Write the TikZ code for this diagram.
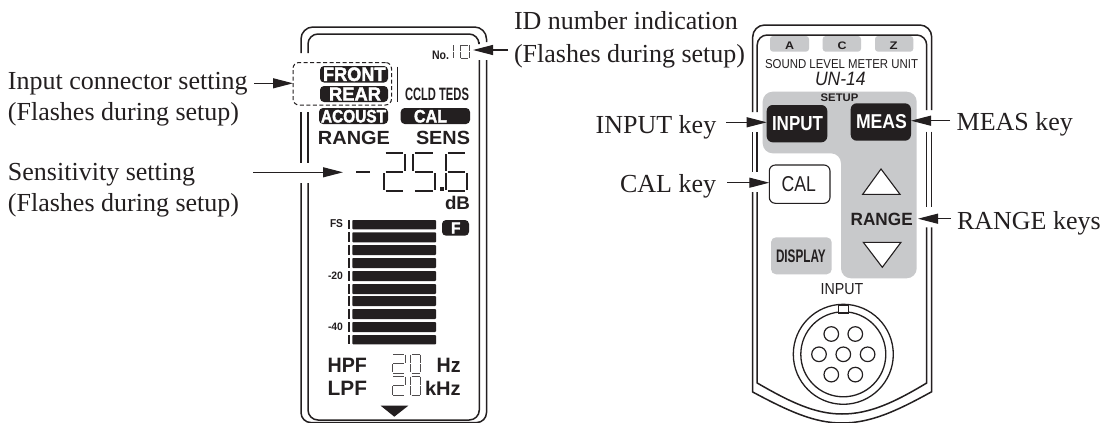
\documentclass[tikz,border=0pt]{standalone}
\usepackage{fontspec}
\usepackage{graphicx}
\setmainfont{Liberation Serif}
\setsansfont{Liberation Sans}
\newfontfamily\fatsans[FakeBold=2.2]{Liberation Sans Bold}
\usetikzlibrary{arrows.meta}
\definecolor{ink}{HTML}{231F20}
\definecolor{keygrey}{HTML}{C8C9CB}
\newcommand{\bx}[6][]{\node[boxnode,#1,minimum width={#4-#2},minimum height={#5-#3}] (#6) at ({(#2+#4)/2},{(#3+#5)/2}) {};}
\newcommand{\tx}[7][]{\node[fittext,#1] (#6) at ({(#2+#4)/2},{(#3+#5)/2}) {\resizebox{\dimexpr#4pt-#2pt\relax}{\dimexpr#5pt-#3pt\relax}{#7}};}
\newcommand{\lab}[4]{\node[label text,anchor=base west] (#1) at (#2,#3) {#4};}
\newcommand{\digit}[6][thick seg]{\begin{scope}[shift={(#2,#3)},x=#4,y=-#5,#1]\foreach \s in {#6}{\draw \s;}\end{scope}}
\def\sa{(.08,0)--(.92,0)}
\def\sb{(1,.06)--(1,.94)}
\def\sc{(1,1.06)--(1,1.94)}
\def\sd{(.08,2)--(.92,2)}
\def\se{(0,1.06)--(0,1.94)}
\def\sf{(0,.06)--(0,.94)}
\def\sg{(.08,1)--(.92,1)}
\tikzset{
 boxnode/.style={inner sep=0pt,outer sep=0pt,draw=none},
 fittext/.style={inner sep=0pt,outer sep=0pt,text=ink,font=\sffamily},
 bold text/.style={font=\sffamily\bfseries},
 white text/.style={text=white,font=\sffamily\bfseries},
 fat white/.style={text=white,font=\fatsans},
 label text/.style={inner sep=0pt,outer sep=0pt,text=ink,font=\fontsize{26}{28}\selectfont},
 frame/.style={draw=ink,line width=1.5pt},
 blackbar/.style={fill=ink,rounded corners=4pt},
 barseg/.style={fill=ink,rounded corners=.8pt},
 tick/.style={fill=ink},
 thick seg/.style={draw=ink,line width=2.2pt},
 thin seg/.style={draw=ink!80,line width=.9pt},
 arr/.style={draw=ink,line width=1.1pt,-{Triangle[length=20pt,width=10pt]}},
 dashbox/.style={draw=ink,line width=1pt,dashed,dash pattern=on 4pt off 2.5pt,rounded corners=6pt},
 pin/.style={circle,draw=ink,line width=1.2pt,minimum size=14.6pt,inner sep=0pt,outer sep=0pt},
 ring/.style={circle,draw=ink,line width=1.3pt,inner sep=0pt,outer sep=0pt},
 tri/.style={draw=ink,line width=1.1pt,fill=white,line join=miter},
}
\begin{document}
\begin{tikzpicture}[x=1pt,y=-1pt]
\useasboundingbox (0,0) rectangle (1112,423);
\fill[white] (0,0) rectangle (1112,423);
% ---------- left display frame
\draw[frame,rounded corners=12pt] (301,53)--(301,27)--(486.5,27)--(486.5,42);
\draw[frame,rounded corners=10pt] (308,53)--(308,34)--(479,34)--(479,42);
\draw[frame] (301,112)--(301,163) (308,112)--(308,163);
\draw[frame,rounded corners=10pt] (301,183)--(301,422.6)--(486.5,422.6)--(486.5,60);
\draw[frame,rounded corners=10pt] (308,183)--(308,420)--(479.3,420)--(479.3,60);
% dashed selector
\bx[dashbox]{293}{62.5}{391.5}{105}{dashes}
\draw[draw=ink,line width=1.3pt] (397.3,66.7)--(397.3,101.7);
% status bars
\bx[blackbar]{320}{66}{388}{82.5}{frontbar}
\tx[fat white]{323}{67.5}{385.5}{81}{fronttext}{FRONT}
\bx[blackbar]{320}{86}{388}{102}{rearbar}
\tx[fat white]{329}{87.5}{381}{100.5}{reartext}{REAR}
\bx[blackbar]{319}{108}{388}{124}{acoustbar}
\tx[fat white]{321}{110}{386}{122.5}{acousttext}{ACOUST}
\bx[blackbar]{400.7}{108}{470}{124}{calbar}
\tx[fat white]{414}{110}{447}{122.5}{caltext}{CAL}
\tx[bold text]{405}{88}{469}{100.5}{teds}{CCLD TEDS}
\tx[bold text]{318}{131.7}{390}{145}{range}{RANGE}
\tx[bold text]{416}{131.7}{470}{145}{sens}{SENS}
\tx[bold text]{445}{196.7}{470}{210}{db}{dB}
\tx[bold text]{432}{51}{449}{59.5}{no}{No.}
% ID digits
\digit[thin seg]{453.5}{45}{.1pt}{6.5pt}{\sb,\sc}
\digit[thin seg]{460}{45}{9pt}{6.5pt}{\sa,\sb,\sc,\sd,\se,\sf}
\coordinate (idtip) at (473,50);
% big value
\digit{355}{172}{16pt}{.1pt}{\sg}
\coordinate (sensetip) at (343,172.3);
\digit{384}{153}{21pt}{19pt}{\sa,\sb,\sg,\se,\sd}
\digit{413}{153}{22pt}{19pt}{\sa,\sf,\sg,\sc,\sd}
\digit{446}{153}{21pt}{19pt}{\sa,\sf,\sg,\sc,\sd,\se}
\bx[tick]{440}{186.5}{444}{190.5}{dot}
% meter
\foreach \n/\a/\b in {1/220/229.3,2/232.3/242.3,3/245/255,4/258/268,5/271/281,6/284/294,7/296/306,8/309/319,9/322/332,10/335/344.3}{
  \bx[barseg]{352.3}{\a}{436}{\b}{bar\n}
  \bx[tick]{348}{\a}{349.6}{\b}{tick\n}
}
\tx[bold text]{330}{220}{343}{228}{fs}{FS}
\tx[bold text]{328}{272}{343}{279.5}{m20}{-20}
\tx[bold text]{328}{323}{343}{330.5}{m40}{-40}
\bx[blackbar]{442}{220}{469}{235.7}{fbar}
\tx[fat white]{451}{222.5}{460.5}{233.5}{ftext}{F}
% filters
\tx[bold text]{327.7}{358}{367}{372.3}{hpf}{HPF}
\tx[bold text]{327.7}{380.7}{367}{395}{lpf}{LPF}
\tx[bold text]{436.7}{358}{460.7}{372.3}{hz}{Hz}
\tx[bold text]{425}{380.7}{460.7}{395}{khz}{kHz}
\digit[thin seg]{392}{354}{13pt}{9.5pt}{\sa,\sb,\sg,\se,\sd}
\digit[thin seg]{410.7}{354}{10pt}{9.5pt}{\sa,\sb,\sc,\sd,\se,\sf}
\digit[thin seg]{392}{376}{13pt}{9.8pt}{\sa,\sb,\sg,\se,\sd}
\digit[thin seg]{410.7}{376}{10pt}{9.8pt}{\sa,\sb,\sc,\sd,\se,\sf}
\fill[ink] (380.7,405.7)--(408.3,405.7)--(394.3,416.7)--cycle;
% ---------- right unit frame
\draw[frame,rounded corners=12pt] (752.7,112)--(752.7,25)--(931.7,25)--(931.7,110);
\draw[frame,rounded corners=10pt] (757.2,112)--(757.2,35)--(926.7,35)--(926.7,110);
\draw[frame] (752.7,132)--(752.7,172) (757.2,132)--(757.2,172);
\draw[frame] (931.7,131.7)--(931.7,207) (926.7,131.7)--(926.7,207);
\draw[frame] (752.7,192)--(752.7,392) .. controls (790,412) and (815,423) .. (842,423) .. controls (870,423) and (895,412) .. (931.7,391.7)--(931.7,227.3);
\draw[frame] (757.2,192)--(757.2,383) .. controls (790,402) and (815,414) .. (842,414) .. controls (870,414) and (895,402) .. (926.7,383)--(926.7,227.3);
% tabs
\path[fill=keygrey,rounded corners=3pt] (770,36)--(770,51.7)--(809,51.7)--(809,36)--cycle;
\path[fill=keygrey,rounded corners=3pt] (822.7,36)--(822.7,51.7)--(861,51.7)--(861,36)--cycle;
\path[fill=keygrey,rounded corners=3pt] (875,36)--(875,51.7)--(913.3,51.7)--(913.3,36)--cycle;
\tx[bold text]{785}{41.7}{794}{49.3}{taba}{A}
\tx[bold text]{837.5}{41.7}{846.5}{49.3}{tabc}{C}
\tx[bold text]{889.5}{41.7}{897.5}{49.3}{tabz}{Z}
\tx{765}{59.3}{918}{68.3}{unitname}{SOUND LEVEL METER UNIT}
\tx[font=\sffamily\itshape]{815}{72.7}{865.7}{86}{model}{UN-14}
% key panel
\path[fill=keygrey,rounded corners=10pt] (762.7,91.7)--(916.7,91.7)--(916.7,278.3)--(841,278.3)--(841,153.3)--(762.7,153.3)--cycle;
\tx[bold text]{820.7}{94}{858.3}{101.7}{setup}{SETUP}
\bx[blackbar,rounded corners=6pt]{766.7}{105}{827.3}{142.3}{inputkey}
\tx[white text]{772}{116.7}{823}{130.7}{inputtext}{INPUT}
\bx[blackbar,rounded corners=6pt]{850.7}{103.3}{911}{140.7}{measkey}
\tx[white text]{856}{115}{907}{129}{meastext}{MEAS}
\bx[draw=ink,line width=1.1pt,fill=white,rounded corners=6pt]{769.3}{165}{830}{203.3}{calkey}
\tx{781.7}{176.7}{816}{191.7}{calkeytext}{CAL}
\draw[tri] (862.7,194.3)--(900,194.3)--(881,169)--cycle;
\tx[bold text]{850.7}{213.3}{912.7}{225.7}{rangekeys}{RANGE}
\draw[tri] (863.3,242.3)--(901,242.3)--(882.3,267.3)--cycle;
\bx[fill=keygrey,rounded corners=5pt]{771}{237.3}{831.7}{274.3}{displaykey}
\tx[bold text]{776}{250}{825.7}{262.7}{displaytext}{DISPLAY}
\tx{820.7}{284}{863.3}{295}{inputlabel}{INPUT}
% connector
\node[ring,minimum size=100pt] (ringo) at (843.3,354.3) {};
\node[ring,minimum size=85pt] (ringi) at (843.3,354.3) {};
\bx[draw=ink,line width=1.1pt,fill=white]{838.3}{305}{848.3}{313}{notch}
\node[pin] (p0) at (843.3,354.3) {};
\node[pin] (p1) at (819,354.3) {};
\node[pin] (p2) at (867.6,354.3) {};
\node[pin] (p3) at (831.3,334) {};
\node[pin] (p4) at (855.3,334) {};
\node[pin] (p5) at (831.3,374.6) {};
\node[pin] (p6) at (855.3,374.6) {};
% ---------- labels
\lab{linput}{8}{89}{Input connector setting}
\lab{linputb}{8}{120}{(Flashes during setup)}
\lab{lsens}{8}{180}{Sensitivity setting}
\lab{lsensb}{8}{211}{(Flashes during setup)}
\lab{lid}{514}{30}{ID number indication}
\lab{lidb}{514}{62}{(Flashes during setup)}
\lab{lik}{595.7}{133}{INPUT key}
\lab{lck}{620}{192.7}{CAL key}
\lab{lmk}{956.7}{130}{MEAS key}
\lab{lrk}{957}{229.3}{RANGE keys}
% ---------- connectors
\coordinate (a1) at (254,83.3);
\coordinate (a2) at (253,172.3);
\coordinate (a3) at (508,50);
\coordinate (a4) at (726,122.3);
\coordinate (a5) at (950,120.7);
\coordinate (a6) at (727,182.7);
\coordinate (a7) at (950.7,218.7);
\draw[arr] (a1) -- (a1 -| dashes.west);
\draw[arr] (a2) -- (sensetip);
\draw[arr] (a3) -- (idtip);
\draw[arr] (a4) -- (a4 -| inputkey.west);
\draw[arr] (a5) -- (a5 -| measkey.east);
\draw[arr] (a6) -- (a6 -| calkey.west);
\draw[arr] (a7) -- (918,218.7);
\end{tikzpicture}
\end{document}
